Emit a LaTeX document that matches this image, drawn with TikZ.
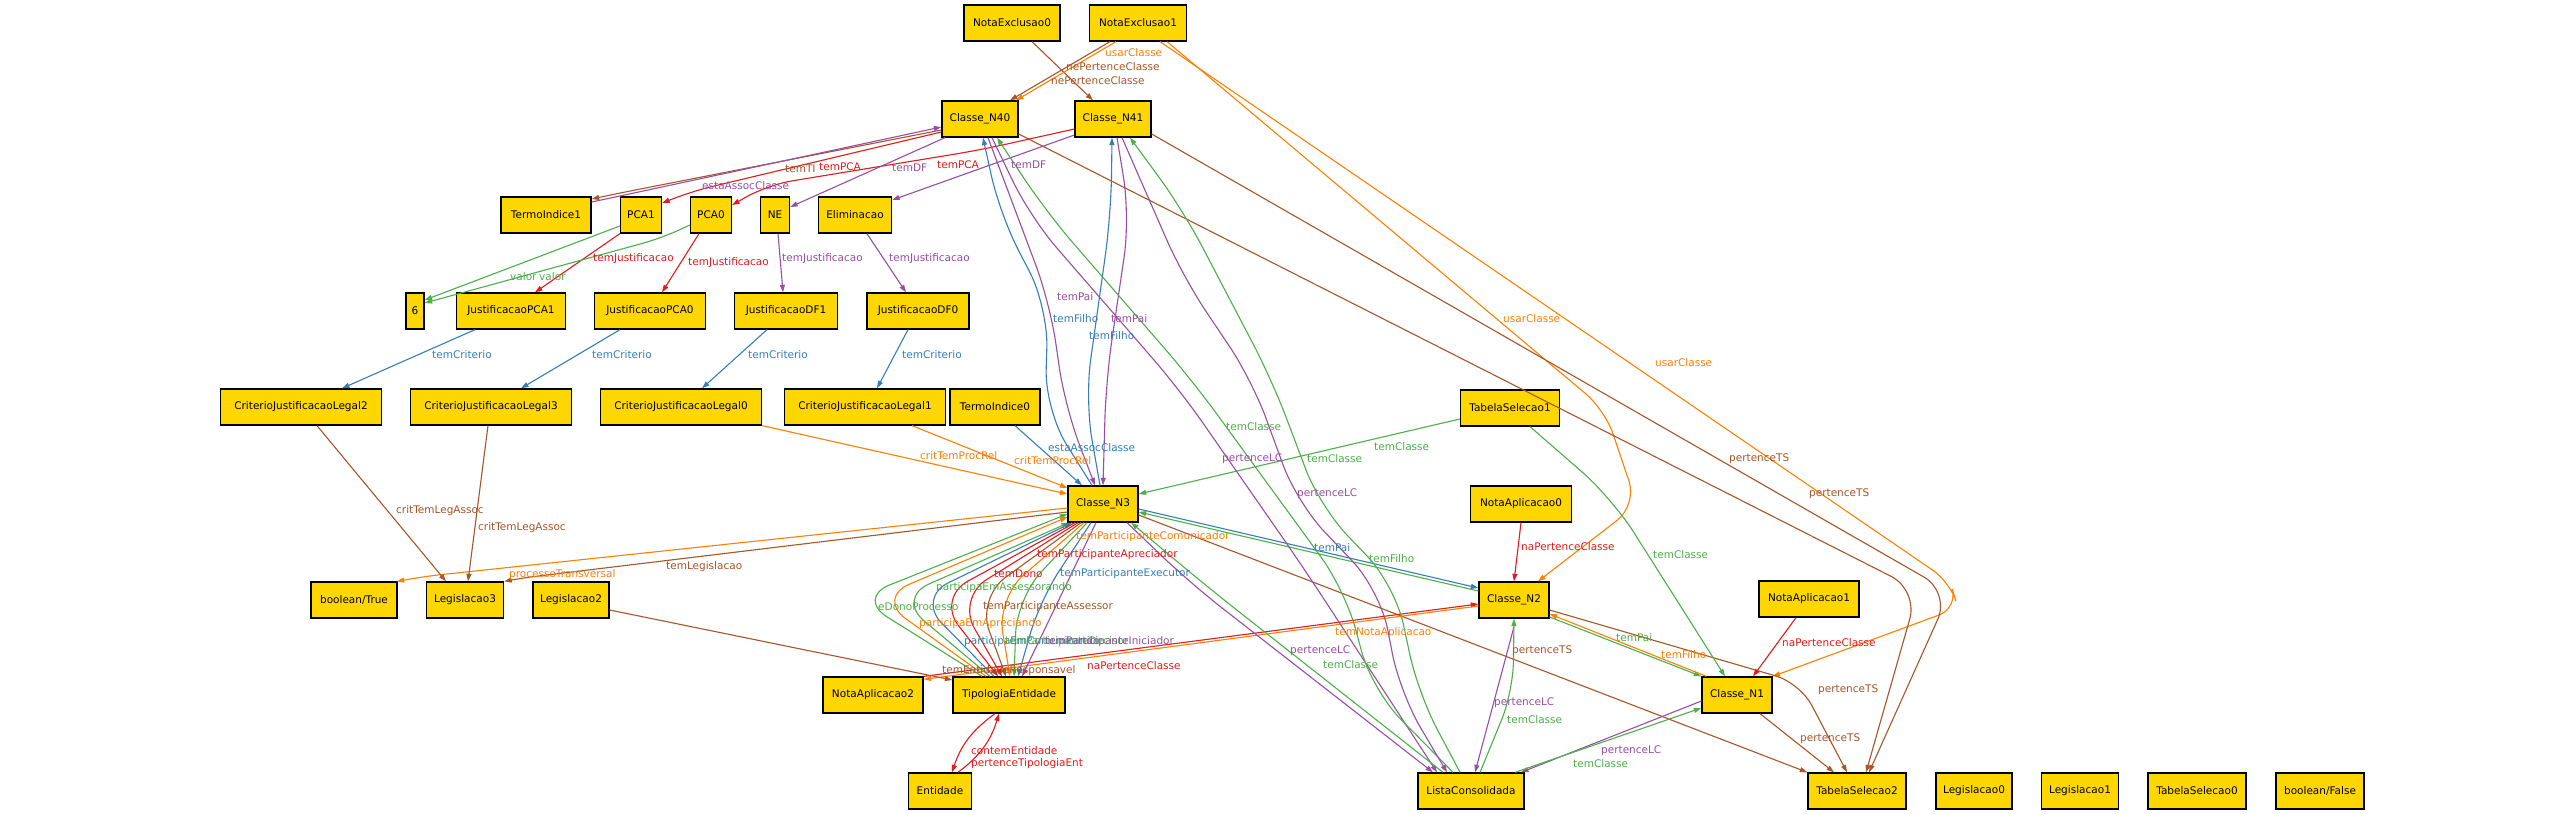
\documentclass[tikz,border=0pt]{standalone}
\usepackage{fontspec}
\setmainfont{DejaVu Sans}
\usetikzlibrary{arrows.meta}
\definecolor{cred}{HTML}{E41A1C}
\definecolor{cblue}{HTML}{377EB8}
\definecolor{cgreen}{HTML}{4DAF4A}
\definecolor{cpurple}{HTML}{984EA3}
\definecolor{corange}{HTML}{FF7F00}
\definecolor{cbrown}{HTML}{A65628}
\definecolor{boxfill}{HTML}{FFD700}
\newcommand{\dgfont}{\fontsize{10.5}{12}\selectfont}
\begin{document}
\begin{tikzpicture}[x=1pt,y=-1pt,
  box/.style={draw=black,line width=1.3pt,fill=boxfill,minimum height=36pt,inner sep=2pt,font=\dgfont},
  ed/.style={line width=1.1pt,-{Triangle[length=7.5pt,width=5pt]}},
  lab/.style={anchor=west,inner sep=0pt,font=\dgfont}]
\useasboundingbox (0,0) rectangle (2555,814);
\fill[white] (0,0) rectangle (2555,814);
% nodes
\node[box,minimum width=96pt] (ne0) at (1012,23) {NotaExclusao0};
\node[box,minimum width=97pt] (ne1) at (1138,23) {NotaExclusao1};
\node[box,minimum width=76pt] (n40) at (980,119) {Classe\_N40};
\node[box,minimum width=76pt] (n41) at (1113,119) {Classe\_N41};
\node[box,minimum width=90pt] (ti1) at (546,215) {TermoIndice1};
\node[box,minimum width=41pt] (pca1) at (641,215) {PCA1};
\node[box,minimum width=41pt] (pca0) at (711,215) {PCA0};
\node[box,minimum width=29pt] (nenode) at (775,215) {NE};
\node[box,minimum width=73pt] (elim) at (855,215) {Eliminacao};
\node[box,minimum width=18pt] (six) at (415,311) {6};
\node[box,minimum width=109pt] (jpca1) at (511,311) {JustificacaoPCA1};
\node[box,minimum width=111pt] (jpca0) at (650,311) {JustificacaoPCA0};
\node[box,minimum width=103pt] (jdf1) at (786,311) {JustificacaoDF1};
\node[box,minimum width=102pt] (jdf0) at (918,311) {JustificacaoDF0};
\node[box,minimum width=161pt] (cjl2) at (301,407) {CriterioJustificacaoLegal2};
\node[box,minimum width=161pt] (cjl3) at (491,407) {CriterioJustificacaoLegal3};
\node[box,minimum width=161pt] (cjl0) at (681,407) {CriterioJustificacaoLegal0};
\node[box,minimum width=161pt] (cjl1) at (865,407) {CriterioJustificacaoLegal1};
\node[box,minimum width=90pt] (ti0) at (995,407) {TermoIndice0};
\node[box,minimum width=99pt] (ts1) at (1510,408) {TabelaSelecao1};
\node[box,minimum width=101pt] (na0) at (1521,504) {NotaAplicacao0};
\node[box,minimum width=70pt] (n3) at (1103,504) {Classe\_N3};
\node[box,minimum width=86pt] (btrue) at (354,600) {boolean/True};
\node[box,minimum width=77pt] (leg3) at (465,600) {Legislacao3};
\node[box,minimum width=76pt] (leg2) at (571,600) {Legislacao2};
\node[box,minimum width=70pt] (n2) at (1514,600) {Classe\_N2};
\node[box,minimum width=100pt] (na1) at (1809,599) {NotaAplicacao1};
\node[box,minimum width=100pt] (na2) at (873,695) {NotaAplicacao2};
\node[box,minimum width=112pt] (te) at (1009,695) {TipologiaEntidade};
\node[box,minimum width=70pt] (n1) at (1737,695) {Classe\_N1};
\node[box,minimum width=63pt] (ent) at (940,791) {Entidade};
\node[box,minimum width=106pt] (lc) at (1471,791) {ListaConsolidada};
\node[box,minimum width=98pt] (ts2) at (1857,791) {TabelaSelecao2};
\node[box,minimum width=76pt] (leg0) at (1974,791) {Legislacao0};
\node[box,minimum width=77pt] (leg1) at (2080,791) {Legislacao1};
\node[box,minimum width=98pt] (ts0) at (2197,791) {TabelaSelecao0};
\node[box,minimum width=88pt] (bfalse) at (2320,791) {boolean/False};
% edges top
\draw[ed,cbrown] ([xshift=20]ne0.south) -- ([xshift=-20]n41.north);
\draw[ed,cbrown] ([xshift=-28]ne1.south) -- ([xshift=30]n40.north);
\draw[ed,corange] ([xshift=-22]ne1.south) -- ([xshift=36]n40.north);
\draw[ed,corange,rounded corners=25pt] ([xshift=29]ne1.south) -- (1605,410) -- (1637,505) -- ([xshift=24]n2.north);
\draw[ed,corange,rounded corners=20pt] ([xshift=22]ne1.south) -- (1950,582) -- (1958,608) -- (n1.north east);
\draw[ed,cbrown,rounded corners=30pt] ([yshift=-15]n40.east) -- (1918,590) -- ([xshift=9]ts2.north);
\draw[ed,cbrown,rounded corners=30pt] ([yshift=-15]n41.east) -- (1950,592) -- ([xshift=12]ts2.north);
\draw[ed,cbrown] ([yshift=-11]n3.east) -- (ts2.north west);
\draw[ed,cbrown,rounded corners=25pt] ([yshift=-10]n2.east) -- (1800,683) -- ([xshift=-10]ts2.north);
\draw[ed,cbrown] ([xshift=23]n1.south) -- ([xshift=-23]ts2.north);
\draw[ed,cred] ([xshift=-13]na1.south) -- ([xshift=16]n1.north);
\draw[ed,cred] (na0.south) -- (n2.north);
\draw[ed,cgreen,rounded corners=40pt] ([xshift=20]ts1.south) -- (1612,498) -- ([xshift=-12]n1.north);
\draw[ed,cgreen] ([yshift=-11]ts1.west) -- ([yshift=10]n3.east);
\draw[ed,cgreen] ([yshift=-17]n2.east) -- (n1.north west);
\draw[ed,corange] ([xshift=5]n1.north west) -- ([yshift=-14]n2.east);
\draw[ed,cblue] ([yshift=-5]n3.east) -- ([yshift=12]n2.west);
\draw[ed,cgreen] ([yshift=9]n2.west) -- ([yshift=-8]n3.east);
\draw[ed,cred] (na2.north east) -- ([yshift=-4]n2.west);
\draw[ed,corange] ([yshift=-6]n2.west) -- ([yshift=-3]na2.north east);
\draw[ed,cbrown] ([yshift=-10]leg2.east) -- ([yshift=15]te.west);
\draw[ed,cred] ([xshift=-14]te.south) to[bend right=18] ([xshift=12]ent.north);
\draw[ed,cred] ([xshift=18]ent.north) to[bend right=18] ([xshift=-10]te.south);
\draw[ed,cblue] ([xshift=20]ti0.south) -- ([xshift=-21]n3.north);
\draw[ed,corange] (cjl0.south east) -- ([yshift=10]n3.west);
\draw[ed,corange] ([xshift=47]cjl1.south) -- ([yshift=16]n3.west);
\draw[ed,corange,rounded corners=15pt] ([yshift=-4]n3.west) -- (428,576) -- ([xshift=-1]btrue.north east);
\draw[ed,cbrown,rounded corners=15pt] ([yshift=-8]n3.west) -- (522,578) -- (leg3.north east);
\draw[ed,cbrown] ([xshift=16]cjl2.south) -- ([xshift=-19]leg3.north);
\draw[ed,cbrown] ([xshift=-3]cjl3.south) -- ([xshift=3]leg3.north);
\draw[ed,cblue] ([xshift=-36]jpca1.south) -- ([xshift=41]cjl2.north);
\draw[ed,cblue] ([xshift=-30]jpca0.south) -- ([xshift=30]cjl3.north);
\draw[ed,cblue] ([xshift=-19]jdf1.south) -- ([xshift=21]cjl0.north);
\draw[ed,cblue] ([xshift=-10]jdf0.south) -- ([xshift=12]cjl1.north);
\draw[ed,cred] (pca1.south west) -- ([xshift=24]jpca1.north);
\draw[ed,cred] ([xshift=-12]pca0.south) -- ([xshift=12]jpca0.north);
\draw[ed,cpurple] ([xshift=3]nenode.south) -- ([xshift=-3]jdf1.north);
\draw[ed,cpurple] ([xshift=12]elim.south) -- ([xshift=-12]jdf0.north);
\draw[ed,cgreen] ([yshift=-11]pca1.west) -- ([yshift=11]six.east);
\draw[ed,cgreen,rounded corners=20pt] ([yshift=-10]pca0.west) -- (662,238) -- ([yshift=8]six.east);
\draw[ed,cbrown,rounded corners=20pt] ([yshift=-11]n40.west) -- (620,193) -- ([yshift=16]ti1.east);
\draw[ed,cpurple,rounded corners=20pt] ([yshift=13]ti1.east) -- (620,196) -- ([yshift=-8]n40.west);
\draw[ed,cred,rounded corners=20pt] ([yshift=-13]n40.west) -- (693,191) -- ([yshift=12]pca1.east);
\draw[ed,cred,rounded corners=25pt] ([yshift=-10]n41.west) -- (980,150) -- (767,185) -- ([yshift=10]pca0.east);
\draw[ed,cpurple] ([xshift=-35]n40.south) -- ([yshift=8]nenode.east);
\draw[ed,cpurple] ([yshift=-16]n41.west) -- ([yshift=15]elim.east);
% N3 - N40 / N41
\draw[ed,cblue,rounded corners=40pt] ([xshift=-11]n3.north) -- (1045,410) -- (1048,307) -- (1000,215) -- ([xshift=3]n40.south);
\draw[ed,cpurple,rounded corners=40pt] ([xshift=8]n40.south) -- (1050,303) -- (1065,407) -- ([xshift=-8]n3.north);
\draw[ed,cblue,rounded corners=40pt] ([xshift=-3]n3.north) -- (1085,400) -- (1111,215) -- ([xshift=-1]n41.south);
\draw[ed,cpurple,rounded corners=40pt] ([xshift=4]n41.south) -- (1130,217) -- (1106,380) -- (n3.north);
% long edges to ListaConsolidada
\draw[ed,cpurple,rounded corners=40pt] ([xshift=12]n40.south) -- (1030,217) -- (1180,390) -- (1303,567) -- ([xshift=-34]lc.north);
\draw[ed,cgreen,rounded corners=40pt] ([xshift=-18]lc.north) -- (1372,690) -- (1345,590) -- (1192,380) -- (1047,213) -- ([xshift=17]n40.south);
\draw[ed,cpurple,rounded corners=40pt] ([xshift=9]n41.south) -- (1183,277) -- (1252,380) -- (1297,503) -- (1380,590) -- (1400,693) -- ([xshift=-24]lc.north);
\draw[ed,cgreen,rounded corners=40pt] ([xshift=-11]lc.north) -- (1418,693) -- (1395,585) -- (1320,507) -- (1272,380) -- (1183,210) -- ([xshift=17]n41.south);
\draw[ed,cpurple,rounded corners=40pt] ([xshift=24]n3.south) -- (1190,583) -- ([xshift=-38]lc.north);
\draw[ed,cgreen,rounded corners=40pt] ([xshift=-28]lc.north) -- (1205,585) -- ([xshift=28]n3.south);
\draw[ed,cpurple] ([yshift=-8]n2.south) -- ([xshift=4]lc.north);
\draw[ed,cgreen,rounded corners=30pt] ([xshift=9]lc.north) -- (1513,692) -- (n2.south);
\draw[ed,cpurple] ([yshift=-6]n1.west) -- ([xshift=50]lc.north);
\draw[ed,cgreen] ([xshift=44]lc.north) -- ([yshift=-13]n1.west);
% fan between TipologiaEntidade and Classe_N3
\draw[ed,cgreen,rounded corners=35pt] ([xshift=-27]te.north) -- (857,598) -- ([yshift=-10]n3.west);
\draw[ed,corange,rounded corners=35pt] ([xshift=-23]te.north) -- (877,598) -- ([yshift=-13]n3.west);
\draw[ed,cgreen,rounded corners=35pt] ([xshift=-19]te.north) -- (897,598) -- ([xshift=-34]n3.south);
\draw[ed,cblue,rounded corners=35pt] ([xshift=-15]te.north) -- (917,598) -- ([xshift=-31]n3.south);
\draw[ed,cred,rounded corners=35pt] ([xshift=-28]n3.south) -- (937,598) -- ([xshift=-11]te.north);
\draw[ed,cred,rounded corners=35pt] ([xshift=-25]n3.south) -- (957,598) -- ([xshift=-7]te.north);
\draw[ed,cbrown,rounded corners=35pt] ([xshift=-22]n3.south) -- (977,598) -- ([xshift=-3]te.north);
\draw[ed,corange,rounded corners=35pt] ([xshift=-19]n3.south) -- (997,598) -- ([xshift=1]te.north);
\draw[ed,cgreen,rounded corners=35pt] ([xshift=-16]n3.south) -- (1017,598) -- ([xshift=5]te.north);
\draw[ed,cblue,rounded corners=35pt] ([xshift=-12]n3.south) -- (1040,600) -- ([xshift=9]te.north);
\draw[ed,cpurple] ([xshift=-7]n3.south) -- ([xshift=13]te.north);
% labels
\node[lab,text=corange] (l1) at (1105,53) {usarClasse};
\node[lab,text=cbrown] (l2) at (1066,67) {nePertenceClasse};
\node[lab,text=cbrown] (l3) at (1051,81) {nePertenceClasse};
\node[lab,text=cbrown] (l4) at (785,169) {temTI};
\node[lab,text=cred] (l5) at (819,167) {temPCA};
\node[lab,text=cpurple] (l6) at (892,168) {temDF};
\node[lab,text=cred] (l7) at (937,165) {temPCA};
\node[lab,text=cpurple] (l8) at (1011,165) {temDF};
\node[lab,text=cpurple] (l9) at (702,186) {estaAssocClasse};
\node[lab,text=cred] (l10) at (593,259) {temJustificacao};
\node[lab,text=cred] (l11) at (688,263) {temJustificacao};
\node[lab,text=cpurple] (l12) at (782,259) {temJustificacao};
\node[lab,text=cpurple] (l13) at (889,259) {temJustificacao};
\node[lab,text=cgreen] (l14) at (510,277) {valor};
\node[lab,text=cgreen] (l15) at (539,277) {valor};
\node[lab,text=cblue] (l16) at (432,355) {temCriterio};
\node[lab,text=cblue] (l17) at (592,355) {temCriterio};
\node[lab,text=cblue] (l18) at (748,355) {temCriterio};
\node[lab,text=cblue] (l19) at (902,355) {temCriterio};
\node[lab,text=cbrown] (l20) at (396,511) {critTemLegAssoc};
\node[lab,text=cbrown] (l21) at (478,528) {critTemLegAssoc};
\node[lab,text=corange] (l22) at (509,575) {processoTransversal};
\node[lab,text=cbrown] (l23) at (666,567) {temLegislacao};
\node[lab,text=corange] (l24) at (920,456) {critTemProcRel};
\node[lab,text=corange] (l25) at (1014,461) {critTemProcRel};
\node[lab,text=cblue] (l26) at (1048,448) {estaAssocClasse};
\node[lab,text=cpurple] (l27) at (1057,297) {temPai};
\node[lab,text=cblue] (l28) at (1053,319) {temFilho};
\node[lab,text=cpurple] (l29) at (1111,319) {temPai};
\node[lab,text=cblue] (l30) at (1089,336) {temFilho};
\node[lab,text=cgreen] (l31) at (1226,427) {temClasse};
\node[lab,text=cpurple] (l32) at (1222,459) {pertenceLC};
\node[lab,text=cgreen] (l33) at (1307,459) {temClasse};
\node[lab,text=cpurple] (l34) at (1297,494) {pertenceLC};
\node[lab,text=cgreen] (l35) at (1374,447) {temClasse};
\node[lab,text=corange] (l36) at (1503,319) {usarClasse};
\node[lab,text=corange] (l37) at (1655,363) {usarClasse};
\node[lab,text=cbrown] (l38) at (1729,459) {pertenceTS};
\node[lab,text=cbrown] (l39) at (1809,494) {pertenceTS};
\node[lab,text=cred] (l40) at (1521,547) {naPertenceClasse};
\node[lab,text=cgreen] (l41) at (1653,555) {temClasse};
\node[lab,text=cblue] (l42) at (1314,548) {temPai};
\node[lab,text=cgreen] (l43) at (1369,559) {temFilho};
\node[lab,text=corange] (l44) at (1076,537) {temParticipanteComunicador};
\node[lab,text=cred] (l45) at (1037,555) {temParticipanteApreciador};
\node[lab,text=cred] (l46) at (994,574) {temDono};
\node[lab,text=cblue] (l47) at (1060,574) {temParticipanteExecutor};
\node[lab,text=cgreen] (l48) at (936,588) {participaEmAssessorando};
\node[lab,text=cgreen] (l49) at (878,607) {eDonoProcesso};
\node[lab,text=cbrown] (l50) at (983,607) {temParticipanteAssessor};
\node[lab,text=corange] (l51) at (919,624) {participaEmApreciando};
\node[lab,text=cblue] (l52) at (964,642) {participaEmComunicando};
\node[lab,text=cgreen] (l53) at (1005,642) {temParticipanteDecisor};
\node[lab,text=cpurple] (l54) at (1045,642) {temParticipanteIniciador};
\node[lab,text=cbrown] (l55) at (942,671) {temEntidadeResponsavel};
\node[lab,text=cred] (l56) at (1087,666) {naPertenceClasse};
\node[lab,text=corange] (l57) at (1335,633) {temNotaAplicacao};
\node[lab,text=cbrown] (l58) at (1512,651) {pertenceTS};
\node[lab,text=cpurple] (l59) at (1290,651) {pertenceLC};
\node[lab,text=cgreen] (l60) at (1323,665) {temClasse};
\node[lab,text=cgreen] (l61) at (1616,638) {temPai};
\node[lab,text=corange] (l62) at (1661,655) {temFilho};
\node[lab,text=cbrown] (l63) at (1818,690) {pertenceTS};
\node[lab,text=cbrown] (l64) at (1800,739) {pertenceTS};
\node[lab,text=cred] (l65) at (1782,643) {naPertenceClasse};
\node[lab,text=cpurple] (l66) at (1494,703) {pertenceLC};
\node[lab,text=cgreen] (l67) at (1507,720) {temClasse};
\node[lab,text=cpurple] (l68) at (1601,751) {pertenceLC};
\node[lab,text=cgreen] (l69) at (1573,764) {temClasse};
\node[lab,text=cred] (l70) at (971,751) {contemEntidade};
\node[lab,text=cred] (l71) at (971,764) {pertenceTipologiaEnt};
\end{tikzpicture}
\end{document}
